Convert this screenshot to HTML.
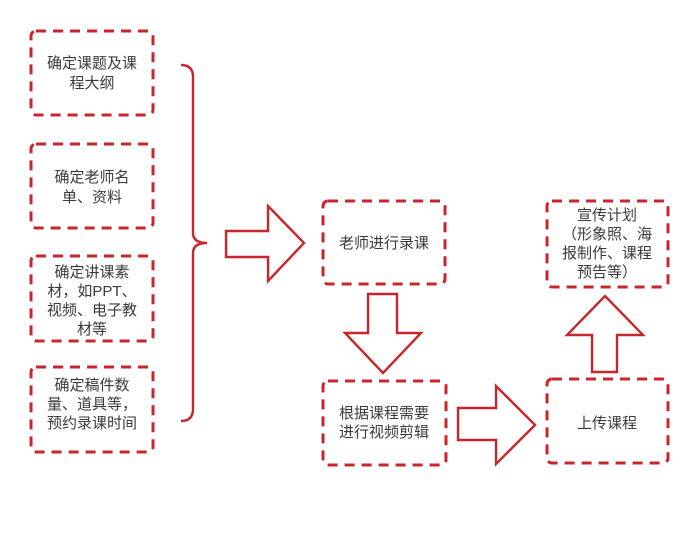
<!DOCTYPE html>
<html><head><meta charset="utf-8"><style>
html,body{margin:0;padding:0;background:#fff;}
svg{display:block;}
text{font-family:"Liberation Sans","Noto Sans CJK SC",sans-serif;font-size:15px;fill:#3a3a3a;text-anchor:middle;}
</style></head><body>
<svg width="700" height="547" viewBox="0 0 700 547">
<g fill="none" stroke="#c8262c" stroke-width="3" stroke-dasharray="10,7">
<rect x="31" y="31" width="122" height="84" rx="5"/>
<rect x="31" y="144" width="122" height="84" rx="5"/>
<rect x="31" y="256" width="122" height="85" rx="5"/>
<rect x="31" y="367" width="122" height="85" rx="5"/>
<rect x="323" y="201" width="122" height="83" rx="5"/>
<rect x="323" y="381" width="123" height="84" rx="5"/>
<rect x="547" y="379" width="121" height="84" rx="5"/>
<rect x="547" y="201" width="121" height="86" rx="5"/>
</g>
<g fill="none" stroke="#c8262c" stroke-width="2.4">
<path d="M181,65 Q193,65 193,77 L193,233 Q193,243 207,243 Q193,243 193,253 L193,409 Q193,421 181,421"/>
<path d="M226,231 L268,231 L268,206 L304,243 L268,281 L268,257 L226,257 Z"/>
<path d="M368,294 L397,294 L397,333 L421,333 L383,373 L345,333 L368,333 Z"/>
<path d="M458,408 L496,408 L496,386 L535,425 L496,464 L496,440 L458,440 Z"/>
<path d="M592,372 L617,372 L617,335 L643,335 L605,296 L567,335 L592,335 Z"/>
</g>
<text x="92" y="68">确定课题及课</text>
<text x="92" y="88">程大纲</text>
<text x="92" y="182">确定老师名</text>
<text x="92" y="202">单、资料</text>
<text x="92" y="277">确定讲课素</text>
<text x="92" y="296">材，如PPT、</text>
<text x="92" y="315">视频、电子教</text>
<text x="92" y="334">材等</text>
<text x="92" y="390">确定稿件数</text>
<text x="92" y="409">量、道具等，</text>
<text x="92" y="428">预约录课时间</text>
<text x="384" y="248">老师进行录课</text>
<text x="384" y="418">根据课程需要</text>
<text x="384" y="437">进行视频剪辑</text>
<text x="607" y="428">上传课程</text>
<text x="607" y="220">宣传计划</text>
<text x="607" y="239">（形象照、海</text>
<text x="607" y="258">报制作、课程</text>
<text x="607" y="277">预告等）</text>
</svg>
</body></html>
